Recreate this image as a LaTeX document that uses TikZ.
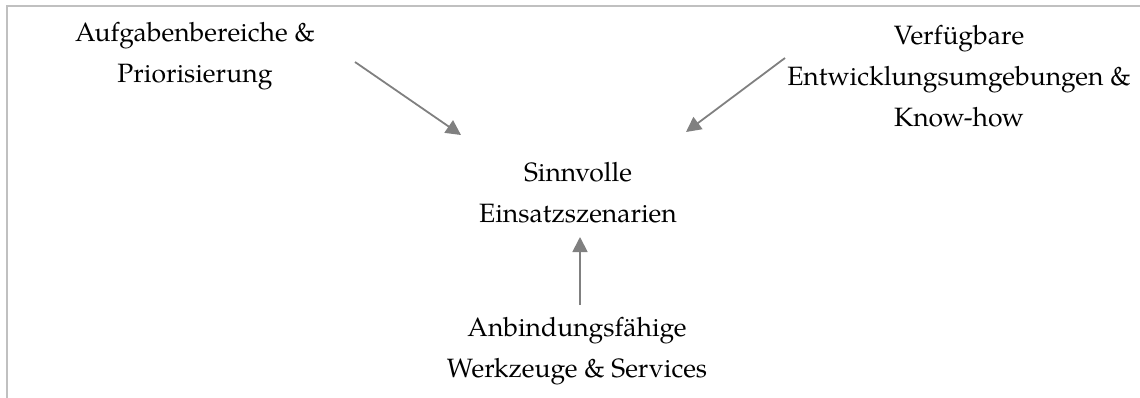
\documentclass[tikz,border=0pt]{standalone}
\usepackage{fontspec}
\setmainfont{TeX Gyre Pagella}
\usetikzlibrary{arrows.meta}
\begin{document}
\begin{tikzpicture}[x=1pt,y=-1pt,
  lbl/.style={align=center,font=\fontsize{26.5}{41}\selectfont,inner sep=0pt},
  conn/.style={draw=arrowgray,line width=1.8pt,-{Triangle[length=15pt,width=15pt]}},
  frameline/.style={draw=framegray,line width=2pt}]
\definecolor{arrowgray}{HTML}{808080}
\definecolor{framegray}{HTML}{C0C0C0}
\useasboundingbox (0,0) rectangle (1140,398);
\draw[frameline] (7,398) -- (7,6) -- (1140,6);
\node[lbl] (A) at (195,56) {Aufgabenbereiche \&\\Priorisierung};
\node[lbl] (V) at (959,76) {Verfügbare\\Entwicklungsumgebungen \&\\Know-how};
\node[lbl] (S) at (578,193) {Sinnvolle\\Einsatzszenarien};
\node[lbl] (W) at (577,351) {Anbindungsfähige\\Werkzeuge \& Services};
\coordinate (a1) at (355,62);
\coordinate (a2) at (461,135);
\coordinate (v1) at (785,58);
\coordinate (v2) at (686,132);
\coordinate (w1) at (580,305);
\coordinate (w2) at (580,237);
\draw[conn] (a1) -- (a2);
\draw[conn] (v1) -- (v2);
\draw[conn] (w1) -- (w2);
\end{tikzpicture}
\end{document}
